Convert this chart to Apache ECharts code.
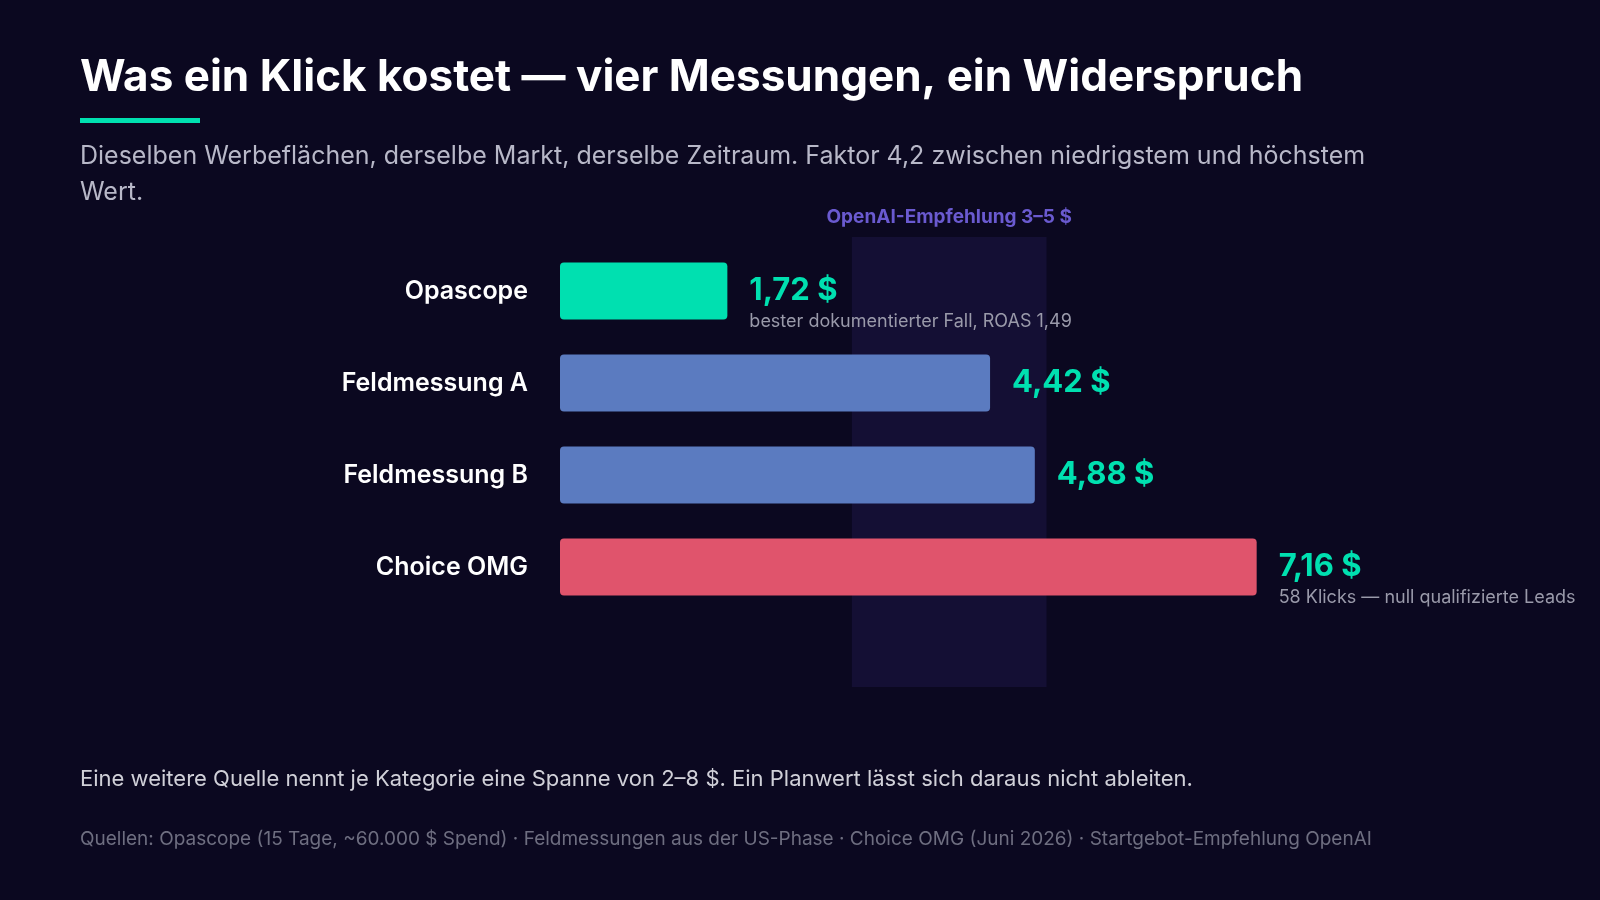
<!DOCTYPE html>
<html><head><meta charset="utf-8">
<script src="https://cdn.jsdelivr.net/npm/echarts@6/dist/echarts.min.js"></script>
<style>html,body{margin:0;background:#0b0820;}#c{width:1600px;height:900px;}</style>
</head><body><div id="c"></div>
<script>
const categories = ['Opascope','Feldmessung A','Feldmessung B','Choice OMG'];
const values = [1.72, 4.42, 4.88, 7.16];
const valueLabels = ['1,72 $','4,42 $','4,88 $','7,16 $'];
const notes = ['bester dokumentierter Fall, ROAS 1,49','','','58 Klicks — null qualifizierte Leads'];
const barColors = ['#00e0b0','#5b7bc0','#5b7bc0','#e0546c'];
const band = [3, 5];
const F = 'Inter, "Noto Sans", sans-serif';

const chart = echarts.init(document.getElementById('c'));
chart.setOption({
  backgroundColor:'#0b0820',
  textStyle:{fontFamily:F},
  grid:[
    {left:560, width:973, top:245, height:368},
    {left:560, width:973, top:237, height:450}
  ],
  xAxis:[
    {gridIndex:0,type:'value',min:0,max:10,show:false},
    {gridIndex:1,type:'value',min:0,max:10,show:false}
  ],
  yAxis:[
    {gridIndex:0,type:'category',data:categories,inverse:true,
     axisLine:{show:false},axisTick:{show:false},
     axisLabel:{color:'#ffffff',fontSize:25,fontWeight:600,margin:32,fontFamily:F}},
    {gridIndex:1,type:'value',min:0,max:1,show:false}
  ],
  graphic:[
    {type:'text',left:80,top:56,style:{text:'Was ein Klick kostet — vier Messungen, ein Widerspruch',fill:'#fff',font:'bold 44px '+F}},
    {type:'rect',left:80,top:118,shape:{width:120,height:5},style:{fill:'#00e0b0'}},
    {type:'text',left:80,top:138,style:{text:'Dieselben Werbeflächen, derselbe Markt, derselbe Zeitraum. Faktor 4,2 zwischen niedrigstem und höchstem\nWert.',fill:'#b8b8c8',font:'25px '+F,lineHeight:36}},
    {type:'text',left:80,top:768,style:{text:'Eine weitere Quelle nennt je Kategorie eine Spanne von 2–8 $. Ein Planwert lässt sich daraus nicht ableiten.',fill:'#d0d0d8',font:'22px '+F}},
    {type:'text',left:80,top:830,style:{text:'Quellen: Opascope (15 Tage, ~60.000 $ Spend) · Feldmessungen aus der US-Phase · Choice OMG (Juni 2026) · Startgebot-Empfehlung OpenAI',fill:'#6e6e80',font:'19px '+F}}
  ],
  series:[
    {type:'line',xAxisIndex:1,yAxisIndex:1,data:[],silent:true,
     markArea:{silent:true,itemStyle:{color:'rgba(30,22,70,0.55)'},
       label:{show:true,position:'top',distance:10,color:'#6a5ad0',fontSize:19,fontWeight:'bold',fontFamily:F,formatter:'OpenAI-Empfehlung 3–5 $'},
       data:[[{xAxis:band[0]},{xAxis:band[1]}]]}},
    {type:'bar',xAxisIndex:0,yAxisIndex:0,barWidth:57,z:3,
     data:values.map((v,i)=>({value:v,itemStyle:{color:barColors[i],borderRadius:4}})),
     label:{show:true,position:'right',distance:22,
       formatter:p=>notes[p.dataIndex]?'{s|}\n{v|'+valueLabels[p.dataIndex]+'}\n{n|'+notes[p.dataIndex]+'}':'{v|'+valueLabels[p.dataIndex]+'}',
       rich:{v:{color:'#00e0b0',fontSize:31,fontWeight:'bold',fontFamily:F,height:38,lineHeight:38},
             n:{color:'#9a9aaa',fontSize:18,fontFamily:F,height:24,lineHeight:24},
             s:{height:24,lineHeight:24}}}}
  ]
});
</script></body></html>
